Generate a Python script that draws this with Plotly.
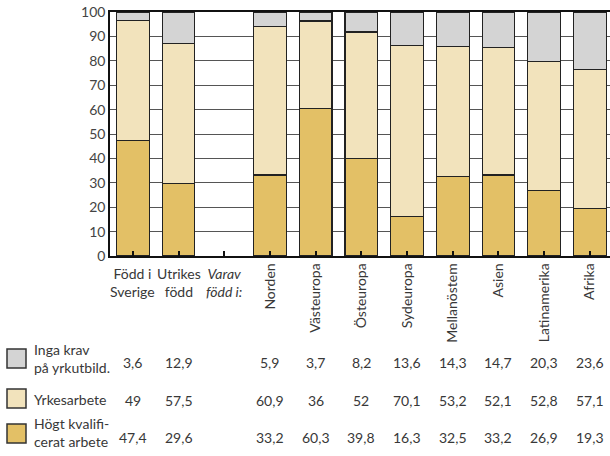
import plotly.graph_objects as go

categories = ["Född i Sverige", "Utrikes född", "Varav född i:", "Norden", "Västeuropa",
              "Östeuropa", "Sydeuropa", "Mellanöstern", "Asien", "Latinamerika", "Afrika"]
tick_labels = ["", "", "", "Norden", "Västeuropa", "Östeuropa", "Sydeuropa",
               "Mellanöstem", "Asien", "Latinamerika", "Afrika"]
horiz_labels = ["Född i<br>Sverige", "Utrikes<br>född", "<i>Varav<br>född i:</i>"]

hogt = [47.4, 29.6, None, 33.2, 60.3, 39.8, 16.3, 32.5, 33.2, 26.9, 19.3]
yrke = [49, 57.5, None, 60.9, 36, 52, 70.1, 53.2, 52.1, 52.8, 57.1]
inga = [3.6, 12.9, None, 5.9, 3.7, 8.2, 13.6, 14.3, 14.7, 20.3, 23.6]

series_names = ["Högt kvalifi-<br>cerat arbete", "Yrkesarbete", "Inga krav<br>på yrkutbild."]
colors = ["#e3c066", "#f2e3bc", "#d4d4d4"]

FONT = "Lato"
TXT = "#383838"

def fmt(v):
    if v is None:
        return ""
    return ("%g" % v).replace(".", ",")

fig = go.Figure()
for vals, name, col in zip([hogt, yrke, inga], series_names, colors):
    fig.add_trace(go.Bar(
        x=list(range(len(categories))), y=vals, name=name,
        marker=dict(color=col, line=dict(color="#222222", width=1.1)),
        showlegend=False, hoverinfo="skip"))

W, H = 610, 456
L, R, T, B = 110, 0, 12, 200
pw, ph = W - L - R, H - T - B

def px_x(p):
    return (p - L) / pw

def px_y(p):
    return (H - B - p) / ph

annotations = []
for i, lab in enumerate(horiz_labels):
    annotations.append(dict(x=i, y=px_y(263), xref="x", yref="paper", text=lab,
                            showarrow=False, xanchor="center", yanchor="top", align="center",
                            font=dict(family=FONT, size=14, color=TXT)))

rows = [(inga, 362), (yrke, 400), (hogt, 437)]
row_labels = ["Inga krav<br>på yrkutbild.", "Yrkesarbete", "Högt kvalifi-<br>cerat arbete"]
row_colors = [colors[2], colors[1], colors[0]]
shapes = []
for (vals, yc), lab, col in zip(rows, row_labels, row_colors):
    for i, v in enumerate(vals):
        if v is None:
            continue
        annotations.append(dict(x=i, y=px_y(yc), xref="x", yref="paper", text=fmt(v),
                                showarrow=False, xanchor="center", yanchor="middle",
                                font=dict(family=FONT, size=14, color=TXT)))
    annotations.append(dict(x=px_x(32), y=px_y(yc - 4 if "<br>" in lab else yc - 1),
                            xref="paper", yref="paper", text=lab,
                            showarrow=False, xanchor="left", yanchor="middle", align="left",
                            font=dict(family=FONT, size=14, color=TXT)))
    sq_top = yc - 13 if lab != "Yrkesarbete" else yc - 11
    shapes.append(dict(type="rect", xref="paper", yref="paper",
                       x0=px_x(7), x1=px_x(26), y0=px_y(sq_top), y1=px_y(sq_top + 19),
                       fillcolor=col, line=dict(color="#333333", width=1.5)))

fig.update_layout(
    width=W, height=H,
    margin=dict(l=L, r=R, t=T, b=B),
    paper_bgcolor="white", plot_bgcolor="white",
    barmode="stack", bargap=0.285,
    font=dict(family=FONT, size=14, color=TXT),
    xaxis=dict(range=[-0.5, 10.44], tickmode="array", tickvals=list(range(len(categories))),
               ticktext=tick_labels, tickangle=-90, tickfont=dict(family=FONT, size=14, color=TXT),
               showline=True, linecolor="#111111", linewidth=1.5, mirror=True,
               ticks="inside", ticklen=5, tickwidth=1.5, tickcolor="#111111",
               tickson="boundaries", showgrid=False, zeroline=False, fixedrange=True),
    yaxis=dict(range=[0, 100], tickmode="linear", tick0=0, dtick=10,
               tickfont=dict(family=FONT, size=14, color="#444444"),
               showline=True, linecolor="#111111", linewidth=1.5,
               showgrid=True, gridcolor="#555555", gridwidth=1.3,
               zeroline=False, ticks="", fixedrange=True),
    annotations=annotations,
    shapes=shapes,
)

fig.write_html("out.html", config={"displayModeBar": False},
               post_script="document.body.style.margin='0';document.body.style.overflow='hidden';")
